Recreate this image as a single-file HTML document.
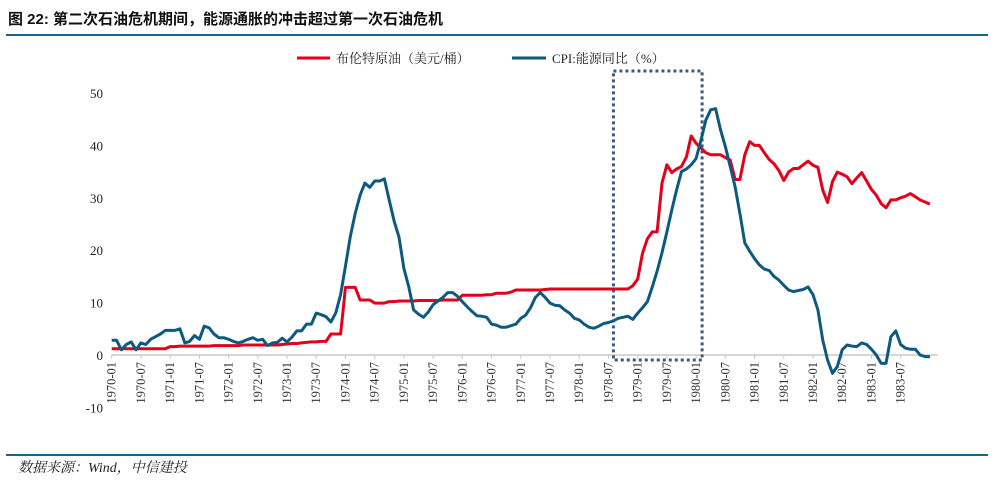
<!DOCTYPE html>
<html><head><meta charset="utf-8"><style>
body{margin:0;background:#fff;width:994px;height:488px;overflow:hidden;position:relative}
svg{position:absolute;left:0;top:0}
</style></head><body>
<svg width="994" height="488" id="chart">
<text x="8" y="24" font-family="Liberation Sans, Noto Sans CJK SC, sans-serif" font-size="15" font-weight="bold" fill="#111">图 22: 第二次石油危机期间，能源通胀的冲击超过第一次石油危机</text>
<line x1="6" y1="35" x2="988" y2="35" stroke="#1a6585" stroke-width="2"/>
<g>
<g>
<line x1="297" y1="58" x2="330" y2="58" stroke="#e3001b" stroke-width="3"/>
<text x="336" y="63" font-family="Liberation Serif, Noto Serif CJK SC, serif" font-size="13" fill="#222">布伦特原油（美元/桶）</text></g>
<g>
<line x1="512" y1="58" x2="546" y2="58" stroke="#0e5a7e" stroke-width="3"/>
<text x="552" y="63" font-family="Liberation Serif, Noto Serif CJK SC, serif" font-size="13" fill="#222">CPI:能源同比（%）</text></g>
</g>
<g id="plot"></g>
<line x1="6" y1="455" x2="988" y2="455" stroke="#1a6585" stroke-width="2"/>
<text x="18" y="472" font-family="Liberation Serif, Noto Serif CJK SC, serif" font-size="14" font-style="italic" fill="#222">数据来源：Wind，中信建投</text>
</svg>
<script>
const startYear = 1970;
const yTicks = [50,40,30,20,10,0,-10];
const brent = [
1.2,1.2,1.2,1.2,1.2,1.2,1.2,1.2,1.2,1.2,1.2,1.2,
1.6,1.6,1.7,1.7,1.7,1.7,1.7,1.7,1.7,1.8,1.8,1.8,
1.8,1.8,1.8,1.9,1.9,1.9,1.9,1.9,1.9,1.9,1.9,2.0,
2.1,2.2,2.2,2.3,2.4,2.5,2.5,2.6,2.6,4.0,4.0,4.0,
12.9,12.9,12.9,10.5,10.5,10.5,9.9,9.9,9.9,10.2,10.2,10.3,
10.3,10.3,10.3,10.4,10.4,10.4,10.4,10.4,10.5,10.5,10.5,10.5,
11.4,11.4,11.4,11.4,11.4,11.5,11.5,11.8,11.8,11.8,12.0,12.4,
12.4,12.4,12.4,12.4,12.4,12.5,12.6,12.6,12.6,12.6,12.6,12.6,
12.6,12.6,12.6,12.6,12.6,12.6,12.6,12.6,12.6,12.6,12.6,13.2,
14.5,19.4,22.2,23.5,23.5,32.8,36.3,34.8,35.5,36.0,37.8,41.8,
40.4,39.5,38.6,38.2,38.2,38.2,37.7,37.2,33.5,33.5,38.2,40.7,
40.0,40.0,38.6,37.3,36.5,35.2,33.3,34.9,35.6,35.6,36.3,37.0,
36.2,35.8,31.5,29.1,33.1,34.9,34.5,34.0,32.7,33.8,34.8,33.2,
31.6,30.5,28.9,28.1,29.6,29.6,30.0,30.3,30.8,30.2,29.6,29.2,
28.8];
const cpiEnergy = [
2.8,2.8,1.0,2.0,2.5,1.0,2.3,2.0,3.0,3.5,4.0,4.7,
4.7,4.7,5.0,2.3,2.6,3.7,3.0,5.5,5.2,4.0,3.3,3.3,
3.0,2.6,2.3,2.6,3.0,3.3,2.8,3.0,1.8,2.3,2.4,3.2,
2.5,3.4,4.6,4.6,5.9,5.9,8.0,7.7,7.3,6.3,8.0,11.5,
17,22.6,27,30.5,32.8,32,33.2,33.2,33.6,29.5,25.5,22.5,
16.5,13,8.6,7.8,7.2,8.2,9.6,10.3,11,11.9,11.9,11.2,
10.2,9.2,8.3,7.5,7.4,7.2,5.9,5.7,5.3,5.3,5.6,5.9,
7.0,7.6,9.0,11.0,11.9,11.0,9.9,9.5,9.4,8.6,8.0,7.0,
6.7,5.9,5.3,5.1,5.5,6.0,6.2,6.5,7.0,7.2,7.4,6.8,
8.0,9.0,10.2,13.0,16,19.5,23.5,27.7,31.5,35,35.5,36.3,
37.5,41,44.8,46.8,47,43,39.8,36,32.1,27,21.4,19.8,
18.4,17.2,16.4,16.1,15,14.3,13.3,12.4,12.1,12.3,12.5,13.0,
11.5,8.6,2.9,-1,-3.5,-2.2,1.0,1.9,1.7,1.6,2.3,2.0,
1.1,0.0,-1.6,-1.6,3.5,4.6,2.0,1.3,1.1,1.1,0.0,-0.3,
-0.3];
const highlightStart = 102, highlightEnd = 120; // month indices 1978-07 .. 1980-01

const NS='http://www.w3.org/2000/svg';
const g=document.getElementById('plot');
const x0=111.7, dx=4.87, yZero=355, ky=5.24;
const X=i=>x0+i*dx;
const Y=v=>yZero-v*ky;
function mk(t,a){const e=document.createElementNS(NS,t);for(const k in a)e.setAttribute(k,a[k]);g.appendChild(e);return e;}
yTicks.forEach(v=>{
  const t=mk('text',{x:103,y:Y(v)+5,'text-anchor':'end','font-family':'Liberation Serif, serif','font-size':13,fill:'#222'});
  t.textContent=v;
  
  
});
const n=brent.length;
const ax=mk('line',{x1:x0,y1:Y(0),x2:X(n-1)+8,y2:Y(0),stroke:'#c8c8c8','stroke-width':1.5});


for(let i=0;i<n;i+=6){
  const tk=mk('line',{x1:X(i),y1:Y(0),x2:X(i),y2:Y(0)+4,stroke:'#c8c8c8','stroke-width':1});
  
  
  if(i>=n-1) continue;
  const yr=startYear+Math.floor(i/12), mo=(i%12)+1;
  const lx=X(i)+4, ly=Y(0)+7;
  const t=mk('text',{x:lx,y:ly,transform:`rotate(-90 ${lx} ${ly})`,'text-anchor':'end','font-family':'Liberation Serif, serif','font-size':12.5,fill:'#333'});
  t.textContent=yr+'-'+(mo<10?'0':'')+mo;
  
  
}
const hb=mk('rect',{x:X(highlightStart)+5,y:71,width:X(highlightEnd)-X(highlightStart)+1,height:289,fill:'none',stroke:'#3a5a7c','stroke-width':3,'stroke-dasharray':'3 3'});


function line(arr,color,name){
  const d=arr.map((v,i)=>(i?'L':'M')+X(i).toFixed(1)+' '+Y(v).toFixed(1)).join(' ');
  const p=mk('path',{d:d,fill:'none',stroke:color,'stroke-width':3,'stroke-linejoin':'round'});
  
  
}
line(brent,'#e3001b','brent-line');
line(cpiEnergy,'#0e5a7e','cpi-energy-line');
</script>
</body></html>
